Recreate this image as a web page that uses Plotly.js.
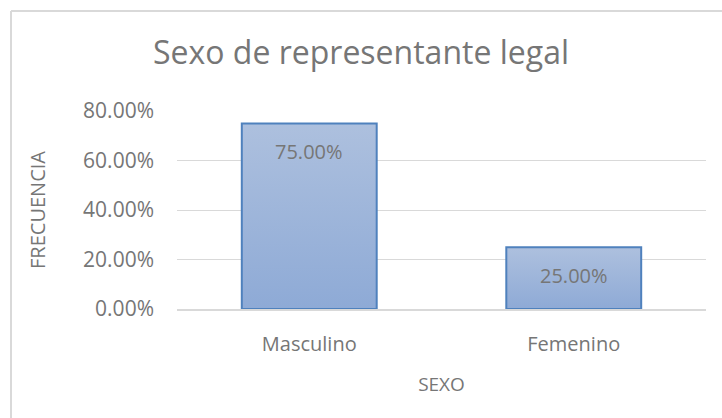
<!DOCTYPE html>
<html>
<head>
<meta charset="utf-8">
<script src="https://cdn.plot.ly/plotly-3.0.1.min.js"></script>
<style>html,body{margin:0;padding:0;background:#fff;}#chart{width:722px;height:418px;}</style>
</head>
<body>
<div id="chart"></div>
<script>
const categories = ["Masculino", "Femenino"];
const values = [0.75, 0.25];
const valueLabels = ["75.00%", "25.00%"];
const yTicks = [0, 0.2, 0.4, 0.6, 0.8];
const yTickLabels = ["0.00%", "20.00%", "40.00%", "60.00%", "80.00%"];

const FONT = "Open Sans, Noto Sans, sans-serif";
const GRAY = "#767676";

const trace = {
  type: "bar",
  x: categories,
  y: values,
  width: 0.51,
  marker: {color: "#9db3d9", line: {color: "#4f81bd", width: 2}},
  hoverinfo: "none"
};

const annotations = categories.map((c, i) => ({
  x: c, y: values[i], xref: "x", yref: "y",
  text: valueLabels[i], showarrow: false,
  yanchor: "top", yshift: -13,
  font: {family: FONT, size: 20, color: GRAY}
}));

const layout = {
  width: 722, height: 418,
  margin: {l: 177, r: 16, t: 111, b: 109},
  paper_bgcolor: "#fff", plot_bgcolor: "#fff",
  showlegend: false,
  title: {text: "Sexo de representante legal", x: 0.5, xref: "container", xanchor: "center",
          y: 1 - 53/418, yref: "container", yanchor: "middle",
          font: {family: FONT, size: 32, color: GRAY}},
  xaxis: {
    showgrid: false, showline: true, linecolor: "#d9d9d9", linewidth: 1.5,
    ticks: "", ticklabelstandoff: 16, tickfont: {family: FONT, size: 20, color: GRAY},
    title: {text: "SEXO", font: {family: FONT, size: 19, color: GRAY}, standoff: 22}
  },
  yaxis: {
    range: [0, 0.8], tickvals: yTicks, ticktext: yTickLabels,
    showgrid: true, gridcolor: "#d9d9d9", gridwidth: 1, zeroline: false,
    showline: false, ticks: "", ticklabelstandoff: 22,
    tickfont: {family: FONT, size: 21, color: GRAY},
    title: {text: "FRECUENCIA", font: {family: FONT, size: 20, color: GRAY}, standoff: 32}
  },
  annotations: annotations,
  shapes: [
    {type: "line", xref: "paper", yref: "paper", x0: -0.3138, x1: -0.3138, y0: -0.6, y1: 1.505,
     line: {color: "#d9d9d9", width: 2}},
    {type: "line", xref: "paper", yref: "paper", x0: -0.3138, x1: 1.05, y0: 1.505, y1: 1.505,
     line: {color: "#d9d9d9", width: 2}}
  ]
};

Plotly.newPlot("chart", [trace], layout, {staticPlot: true}).then(gd => {
  const svg = gd.querySelector("svg.main-svg");
  const ns = "http://www.w3.org/2000/svg";
  let defs = svg.querySelector("defs");
  if (!defs) { defs = document.createElementNS(ns, "defs"); svg.insertBefore(defs, svg.firstChild); }
  const grad = document.createElementNS(ns, "linearGradient");
  grad.setAttribute("id", "barGrad");
  grad.setAttribute("x1", "0"); grad.setAttribute("y1", "0");
  grad.setAttribute("x2", "0"); grad.setAttribute("y2", "1");
  [["0", "#adc0de"], ["1", "#8eaad6"]].forEach(([o, c]) => {
    const s = document.createElementNS(ns, "stop");
    s.setAttribute("offset", o); s.setAttribute("stop-color", c);
    grad.appendChild(s);
  });
  defs.appendChild(grad);
  gd.querySelectorAll(".bars .point path").forEach(p => { p.style.fill = "url(#barGrad)"; });
});
</script>
</body>
</html>
